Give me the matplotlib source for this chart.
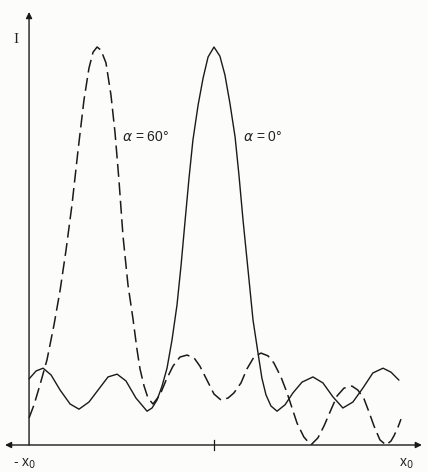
import numpy as np
import matplotlib
matplotlib.use('Agg')
import matplotlib.pyplot as plt
from matplotlib import rcParams

rcParams.update({'font.family': ['Liberation Sans', 'DejaVu Sans'],
                 'mathtext.fontset': 'dejavusans'})

# intensity profiles, x in units of x0, I normalised to the peak
x_0deg = [-1.000, -0.962, -0.924, -0.881, -0.832, -0.778, -0.730, -0.676, -0.627,
          -0.573, -0.524, -0.476, -0.422, -0.362, -0.335, -0.308, -0.281, -0.254,
          -0.227, -0.200, -0.178, -0.157, -0.135, -0.114, -0.086, -0.059, -0.032,
          0.000, 0.032, 0.059, 0.086, 0.114, 0.135, 0.157, 0.184, 0.211, 0.238,
          0.259, 0.281, 0.308, 0.341, 0.384, 0.427, 0.476, 0.535, 0.589, 0.643,
          0.697, 0.751, 0.805, 0.859, 0.914, 0.957, 1.000]
I_0deg = [0.166, 0.186, 0.193, 0.176, 0.138, 0.103, 0.090, 0.108, 0.138,
          0.171, 0.178, 0.161, 0.118, 0.085, 0.093, 0.113, 0.148, 0.193,
          0.264, 0.352, 0.452, 0.560, 0.671, 0.766, 0.854, 0.922, 0.975,
          1.000, 0.977, 0.930, 0.859, 0.774, 0.678, 0.565, 0.440, 0.314, 0.231,
          0.168, 0.126, 0.098, 0.085, 0.101, 0.131, 0.158, 0.171, 0.156, 0.121,
          0.093, 0.108, 0.143, 0.181, 0.193, 0.183, 0.163]

x_60deg = [-1.000, -0.973, -0.941, -0.903, -0.865, -0.832, -0.800, -0.768, -0.735,
           -0.703, -0.676, -0.654, -0.632, -0.611, -0.584, -0.557, -0.535, -0.514,
           -0.492, -0.465, -0.438, -0.416, -0.400, -0.378, -0.357, -0.330, -0.292,
           -0.259, -0.222, -0.184, -0.146, -0.108, -0.076, -0.038, 0.000, 0.038,
           0.076, 0.108, 0.146, 0.178, 0.216, 0.254, 0.292, 0.324, 0.362, 0.395,
           0.422, 0.449, 0.486, 0.524, 0.562, 0.595, 0.632, 0.665, 0.703, 0.746,
           0.778, 0.811, 0.838, 0.865, 0.897, 0.930, 0.957, 0.973, 0.995, 1.011]
I_60deg = [0.068, 0.101, 0.151, 0.214, 0.302, 0.389, 0.490, 0.603, 0.741,
           0.867, 0.947, 0.987, 1.000, 0.992, 0.960, 0.879, 0.784, 0.666,
           0.525, 0.402, 0.317, 0.239, 0.191, 0.148, 0.118, 0.103, 0.126,
           0.163, 0.198, 0.221, 0.226, 0.219, 0.198, 0.163, 0.128, 0.113,
           0.118, 0.131, 0.156, 0.191, 0.221, 0.231, 0.224, 0.206, 0.171, 0.131,
           0.093, 0.055, 0.020, 0.000, 0.018, 0.048, 0.088, 0.123, 0.143, 0.148,
           0.138, 0.116, 0.083, 0.048, 0.013, 0.000, 0.010, 0.023, 0.045, 0.065]

label_0 = r'$\alpha$ = 0°'
label_60 = r'$\alpha$ = 60°'

fig = plt.figure(figsize=(4.28, 4.72), dpi=100)
fig.patch.set_facecolor('#fcfcfb')
ax = fig.add_axes([0.0117, 0.0572, 0.974, 0.9174])
ax.set_xlim(-1.130, 1.124)
ax.set_ylim(0, 1.088)
ax.axis('off')

ax.plot(x_0deg, I_0deg, color='#1a1a1a', lw=1.0, solid_capstyle='round')
ax.plot(x_60deg, I_60deg, color='#1a1a1a', lw=1.1, dashes=(8.5, 3.6))

# axes drawn as arrows
ax.annotate('', xy=(-1.130, 0), xytext=(1.124, 0),
            arrowprops=dict(arrowstyle='<|-|>', lw=1.0, color='#1a1a1a',
                            mutation_scale=9, shrinkA=0, shrinkB=0))
ax.annotate('', xy=(-1.0, 1.088), xytext=(-1.0, 0),
            arrowprops=dict(arrowstyle='-|>', lw=1.0, color='#1a1a1a',
                            mutation_scale=9, shrinkA=0, shrinkB=0))
ax.plot([0, 0], [-0.012, 0.012], color='#1a1a1a', lw=0.9, clip_on=False)

ax.text(-1.070, 1.018, 'I', fontsize=11, family='Liberation Serif',
        ha='center', va='center', color='#222222')
ax.text(-0.497, 0.774, label_60, fontsize=10, ha='left', va='center', color='#222222')
ax.text(0.157, 0.774, label_0, fontsize=10, ha='left', va='center', color='#222222')

fig.text(13 / 428, 1 - 464 / 472, r'- x$_{\rm 0}$', fontsize=10,
         ha='left', va='center', color='#222222')
fig.text(399 / 428, 1 - 464 / 472, r'x$_{\rm 0}$', fontsize=10,
         ha='left', va='center', color='#222222')

fig.savefig('out.png', dpi=100, facecolor=fig.get_facecolor())
